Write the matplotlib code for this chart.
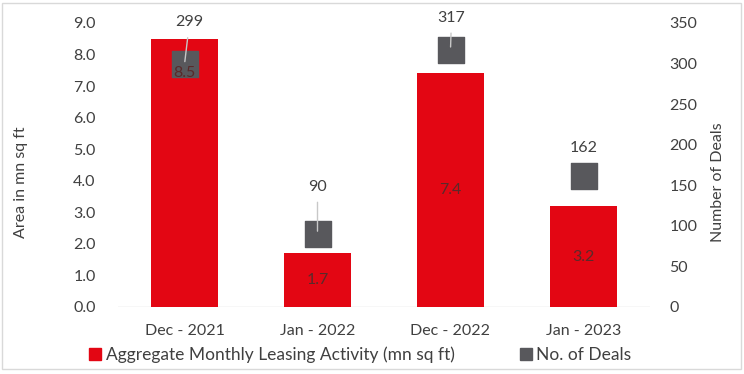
import matplotlib.pyplot as plt
from matplotlib.patches import Rectangle
from matplotlib.lines import Line2D

plt.rcParams['font.family'] = ['Lato', 'DejaVu Sans']

# ---- data
months = ['Dec - 2021', 'Jan - 2022', 'Dec - 2022', 'Jan - 2023']
area = [8.5, 1.7, 7.4, 3.2]
deals = [299, 90, 317, 162]

red = '#E30613'
gray = '#58585C'
txt = '#404040'

fig = plt.figure(figsize=(7.44, 3.74), dpi=100)
ax = fig.add_axes([118/744, 1-307/374, 532/744, 284/374])
ax2 = ax.twinx()

x = range(len(months))
ax.bar(x, area, width=0.5, color=red, zorder=2)
ax.set_xlim(-0.5, 3.5)
ax.set_ylim(0, 9)
ax.set_yticks([i for i in range(10)])
ax.set_yticklabels(['%.1f' % i for i in range(10)])
ax.set_xticks(list(x))
ax.set_xticklabels(months)
ax.set_ylabel('Area in mn sq ft', fontsize=11.5, color=txt)
ax.yaxis.set_label_coords(-0.17, 0.44)

ax2.set_ylim(0, 350)
ax2.set_yticks(range(0, 351, 50))
ax2.set_ylabel('Number of Deals', fontsize=11.5, color=txt)
ax2.yaxis.set_label_coords(1.115, 0.44)
ax2.scatter(list(x), deals, marker='s', s=330, color=gray, zorder=3)

for a in (ax, ax2):
    for s in a.spines.values():
        s.set_visible(False)
    a.tick_params(length=0, labelsize=11.5, colors=txt)
ax.tick_params(axis='y', pad=16)
ax.tick_params(axis='x', pad=12)
ax2.tick_params(axis='y', pad=14)
ax.axhline(0, color='#D9D9D9', lw=1, zorder=1)

# bar value labels, drawn above the markers
for i, v in enumerate(area):
    y = v - 1.1 if i == 0 else v / 2
    ax2.text(i, y, '%.1f' % v, ha='center', va='center', fontsize=11.5,
             color='#5a2a2a', zorder=6, transform=ax.transData)

# deal labels with leader lines
offs = [(5, 42), (0, 47), (1, 32), (0, 28)]
lines = [True, True, True, False]
for i, (v, o, ln) in enumerate(zip(deals, offs, lines)):
    ax2.annotate(str(v), (i, v), xytext=o, textcoords='offset pixels',
                 ha='center', va='center', fontsize=11.5, color=txt, zorder=5,
                 arrowprops=dict(arrowstyle='-', color='#C8C8C8', lw=1,
                                 shrinkA=4, shrinkB=2) if ln else None)

handles = [Line2D([], [], marker='s', ls='', color=red, markersize=9),
           Line2D([], [], marker='s', ls='', color=gray, markersize=9)]
fig.legend(handles, ['Aggregate Monthly Leasing Activity (mn sq ft)', 'No. of Deals'],
           loc='center', bbox_to_anchor=(360/744, 1-355/374), ncol=2, frameon=False,
           fontsize=12.5, handlelength=0.8, handletextpad=0.2, columnspacing=3.7,
           labelcolor=txt)

fig.patches.append(Rectangle((2/744, 5/374), 739/744, 366/374, transform=fig.transFigure,
                             fill=False, ec='#D9D9D9', lw=1))

fig.savefig('out.png', dpi=100)
